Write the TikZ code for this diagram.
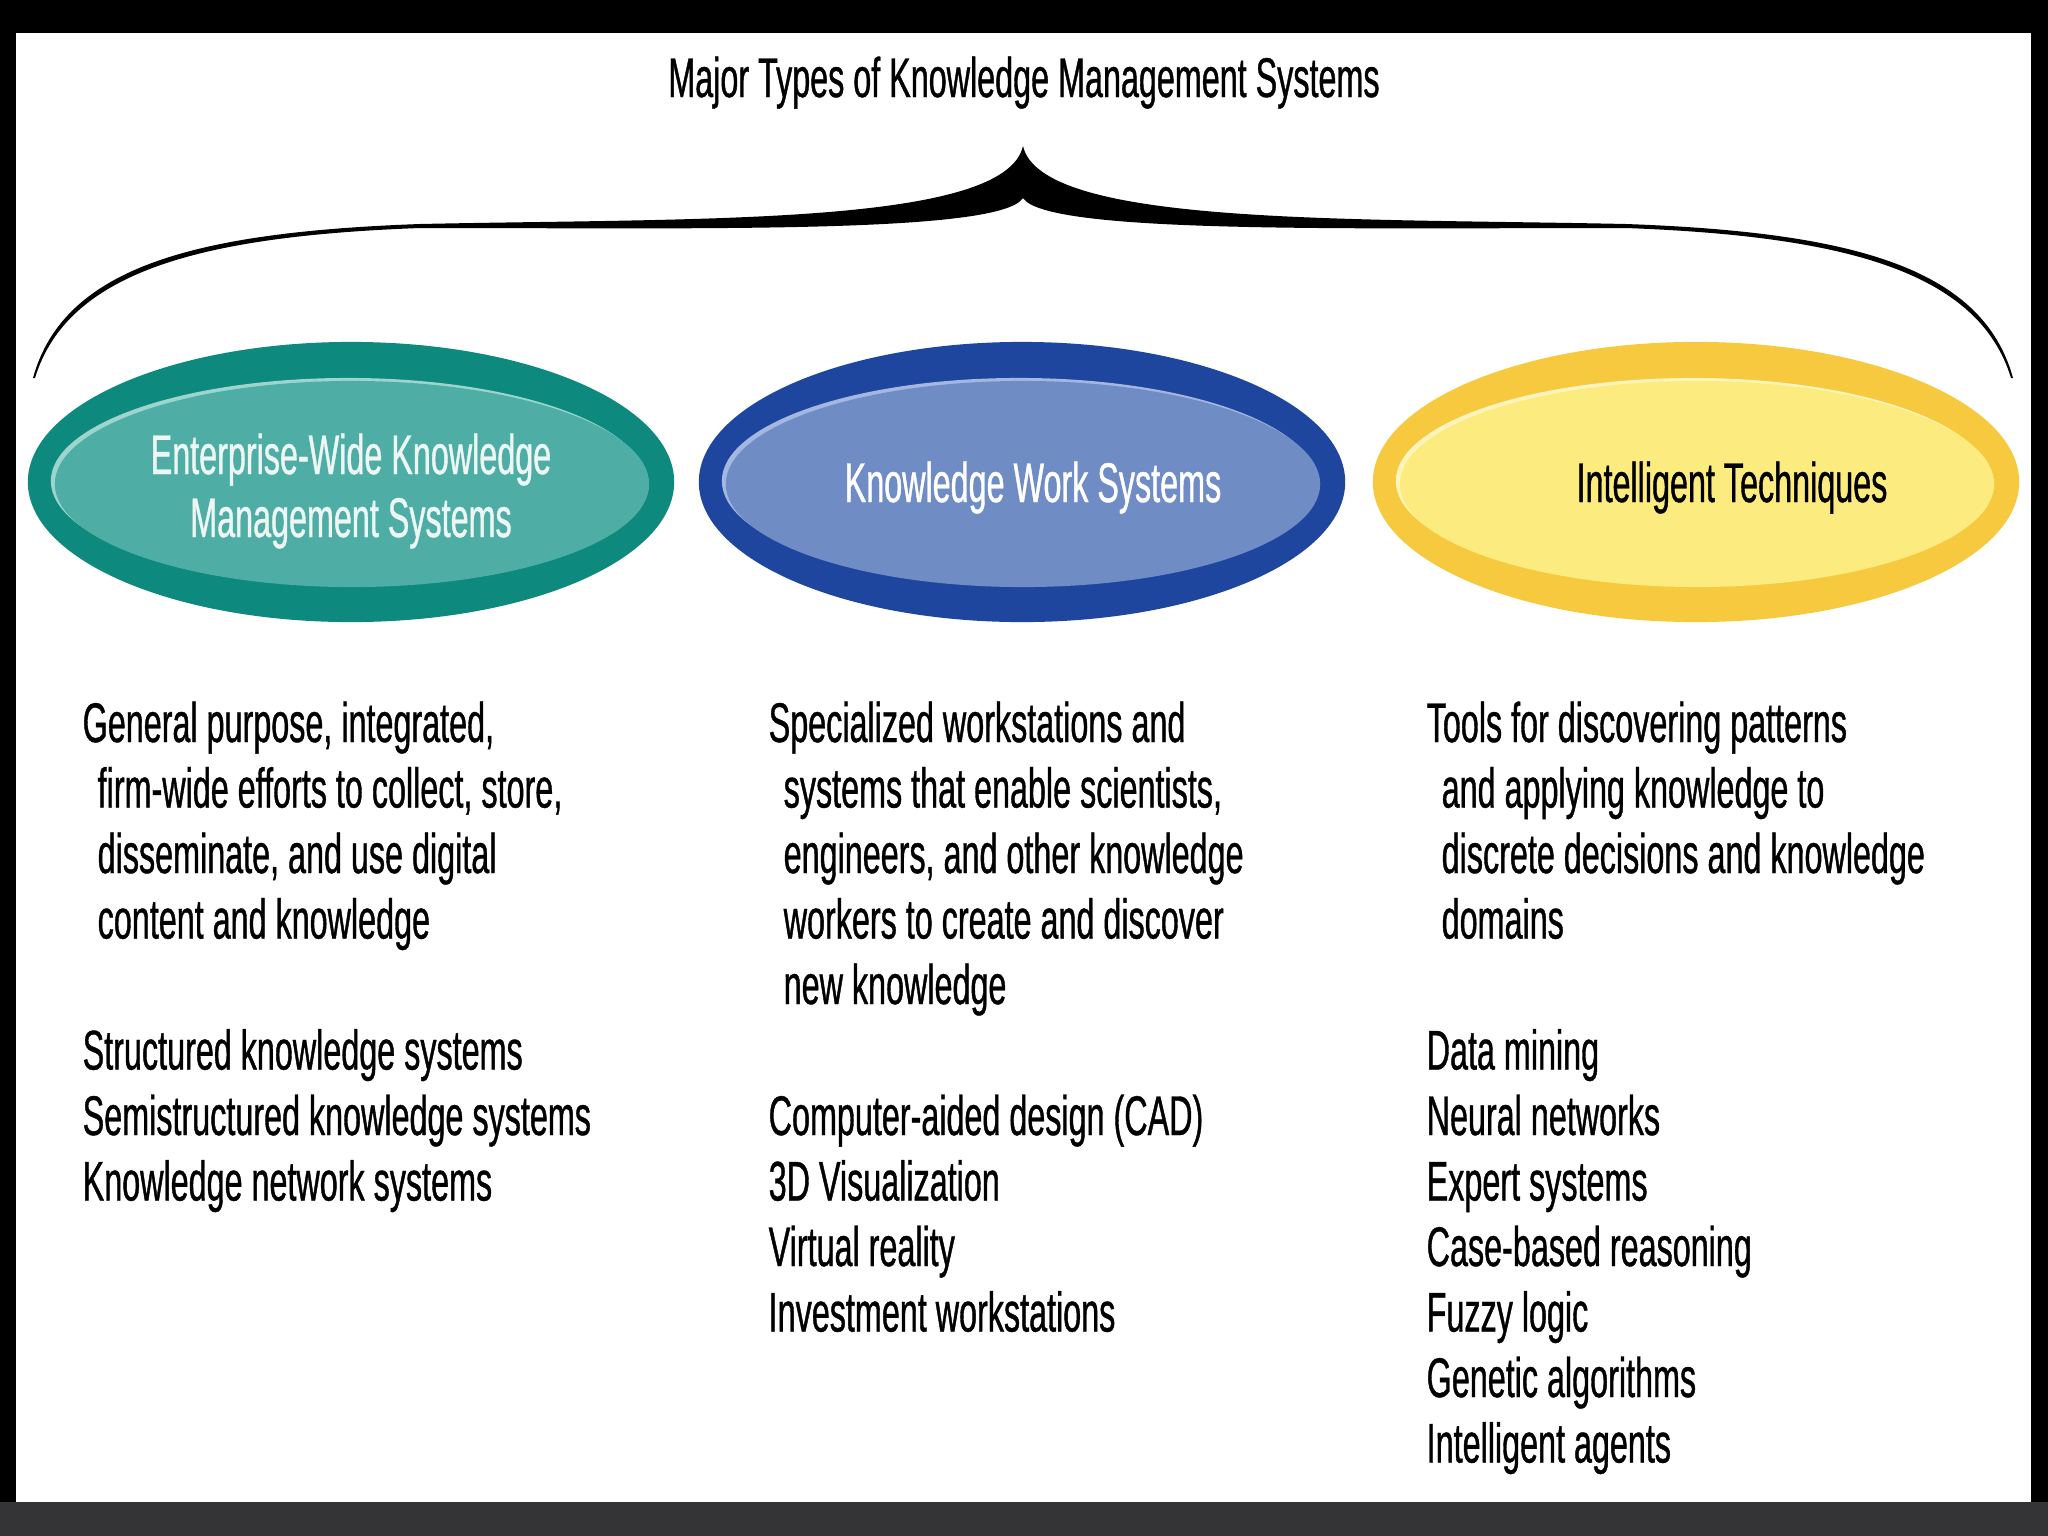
\documentclass[tikz,border=0pt]{standalone}
\usepackage{fontspec}
\setmainfont{Liberation Sans}[FakeStretch=0.578,FakeBold=0.7]
\usetikzlibrary{positioning}
\definecolor{framegray}{HTML}{343336}
\definecolor{tealout}{HTML}{0E897D}
\definecolor{tealrim}{HTML}{9ED4CE}
\definecolor{tealin}{HTML}{4EAEA6}
\definecolor{blueout}{HTML}{1F469E}
\definecolor{bluerim}{HTML}{A3B7E0}
\definecolor{bluein}{HTML}{6F8DC4}
\definecolor{yelout}{HTML}{F6C93F}
\definecolor{yelrim}{HTML}{FFF4BC}
\definecolor{yelin}{HTML}{FCEB7E}
\definecolor{lbllight}{HTML}{EEF6F4}
\newcommand\kmfont{\fontsize{15.9pt}{18.6pt}\selectfont}
\newcommand\kmind{\hspace*{0.15cm}}
\tikzset{
  bodytxt/.style={anchor=base west,inner sep=0pt,font=\kmfont},
  lbltxt/.style={anchor=base,inner sep=0pt,font=\kmfont},
}
\begin{document}
\begin{tikzpicture}[x=0.01cm,y=-0.01cm]
\useasboundingbox (0,0) rectangle (2048,1536);
% frame and sheet
\fill[black] (0,0) rectangle (2048,1536);
\fill[framegray] (0,1502) rectangle (2048,1536);
\fill[white] (16,33) rectangle (2031,1502);
% title and brace
\node[lbltxt] (title) at (1024,97) {Major Types of Knowledge Management Systems};
\fill[black] (33,378) .. controls (64,265) and (200,232) .. (420,224)
  .. controls (700,218) and (1005,226) .. (1023,146)
  .. controls (1041,226) and (1346,218) .. (1626,224)
  .. controls (1846,232) and (1982,265) .. (2013,378)
  -- (2011,378)
  .. controls (1978,270) and (1841,236) .. (1626,228)
  .. controls (1346,228) and (1046,234) .. (1023,198)
  .. controls (1000,234) and (700,228) .. (420,228)
  .. controls (205,236) and (68,270) .. (35,378) -- cycle;
% the three ellipses
\foreach \cx/\co/\cr/\ci in {351/tealout/tealrim/tealin,1022/blueout/bluerim/bluein,1696/yelout/yelrim/yelin}{
  \fill[\co] (\cx,482) ellipse [x radius=3.23cm,y radius=1.40cm];
  \fill[\cr] (\cx-3,481) ellipse [x radius=2.97cm,y radius=1.03cm];
  \fill[\ci] (\cx+1,484) ellipse [x radius=2.97cm,y radius=1.03cm];
}
\node[lbltxt,text=lbllight] (ewkA) at (351,474) {Enterprise-Wide Knowledge};
\node[lbltxt,text=lbllight] (ewkB) at (351,537) {Management Systems};
\node[lbltxt,text=white] (kws) at (1033,502) {Knowledge Work Systems};
\node[lbltxt,text=black] (itq) at (1732,502) {Intelligent Techniques};
% enterprise-wide column
\foreach \ln [count=\i from 0] in {{General purpose, integrated,},{\kmind firm-wide efforts to collect, store,},{\kmind disseminate, and use digital},{\kmind content and knowledge}}
  \node[bodytxt] (ewkd\i) at (82,{742+65.5*\i}) {\ln};
\foreach \ln [count=\i from 5] in {Structured knowledge systems,Semistructured knowledge systems,Knowledge network systems}
  \node[bodytxt] (ewkl\i) at (82,{742+65.5*\i}) {\ln};
% knowledge work column
\foreach \ln [count=\i from 0] in {{Specialized workstations and},{\kmind systems that enable scientists,},{\kmind engineers, and other knowledge},{\kmind workers to create and discover},{\kmind new knowledge}}
  \node[bodytxt] (kwsd\i) at (768,{742+65.5*\i}) {\ln};
\foreach \ln [count=\i from 6] in {Computer-aided design (CAD),3D Visualization,Virtual reality,Investment workstations}
  \node[bodytxt] (kwsl\i) at (768,{742+65.5*\i}) {\ln};
% intelligent techniques column
\foreach \ln [count=\i from 0] in {{Tools for discovering patterns},{\kmind and applying knowledge to},{\kmind discrete decisions and knowledge},{\kmind domains}}
  \node[bodytxt] (itqd\i) at (1426,{742+65.5*\i}) {\ln};
\foreach \ln [count=\i from 5] in {Data mining,Neural networks,Expert systems,Case-based reasoning,Fuzzy logic,Genetic algorithms,Intelligent agents}
  \node[bodytxt] (itql\i) at (1426,{742+65.5*\i}) {\ln};
\end{tikzpicture}
\end{document}
